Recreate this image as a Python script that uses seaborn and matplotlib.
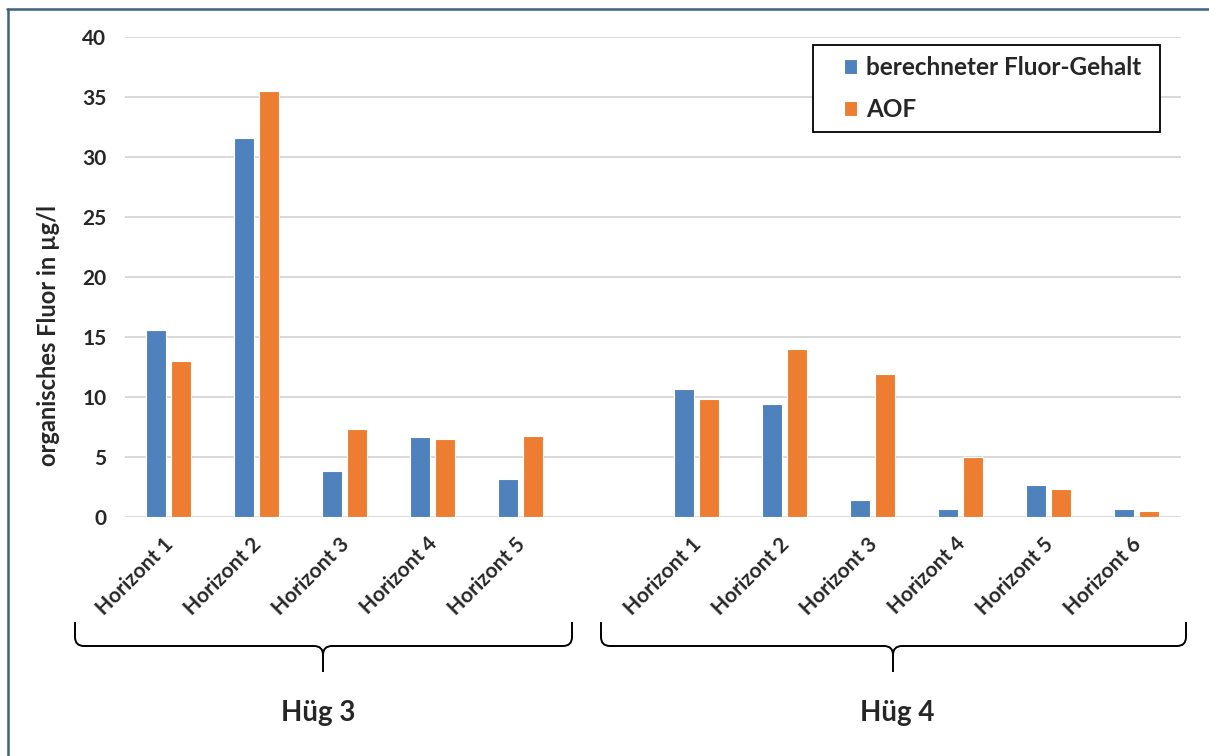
import matplotlib
matplotlib.use("Agg")
import matplotlib.pyplot as plt
import matplotlib.transforms as mtransforms
from matplotlib.path import Path
from matplotlib.patches import PathPatch, Rectangle
from matplotlib.lines import Line2D
import seaborn as sns
import pandas as pd

# ---- data -------------------------------------------------------------
groups = ["Hüg 3", "Hüg 4"]
horizons_hug3 = ["Horizont 1", "Horizont 2", "Horizont 3", "Horizont 4", "Horizont 5"]
horizons_hug4 = ["Horizont 1", "Horizont 2", "Horizont 3", "Horizont 4", "Horizont 5", "Horizont 6"]
series_names = ["berechneter Fluor-Gehalt", "AOF"]

calc_hug3 = [15.6, 31.6, 3.8, 6.7, 3.2]
aof_hug3 = [13.0, 35.5, 7.3, 6.5, 6.75]
calc_hug4 = [10.65, 9.4, 1.45, 0.7, 2.7, 0.65]
aof_hug4 = [9.8, 14.0, 11.9, 5.0, 2.3, 0.5]

y_ticks = [0, 5, 10, 15, 20, 25, 30, 35, 40]
y_label = "organisches Fluor in µg/l"

colors = ["#4F81BD", "#ED7D31"]

# ---- long table with one empty slot between the two profiles ----------
rows = []
slot_order = []
slot_labels = []
for gi, (grp, hors, calc, aof) in enumerate(
        [(groups[0], horizons_hug3, calc_hug3, aof_hug3),
         (groups[1], horizons_hug4, calc_hug4, aof_hug4)]):
    if gi > 0:
        slot_order.append(" ")
        slot_labels.append("")
    for h, c, a in zip(hors, calc, aof):
        key = f"{grp} – {h}"
        slot_order.append(key)
        slot_labels.append(h)
        rows.append({"Probe": key, "Reihe": series_names[0], "Wert": c})
        rows.append({"Probe": key, "Reihe": series_names[1], "Wert": a})
df = pd.DataFrame(rows)

# ---- figure -----------------------------------------------------------
W, H = 1209, 756
sns.set_theme(style="white")
plt.rcParams["font.family"] = ["Lato", "DejaVu Sans"]
fig = plt.figure(figsize=(W / 100, H / 100), dpi=100)
ax_left, ax_right, ax_top, ax_bottom = 124.5, 1180.5, 37, 517
ax = fig.add_axes([ax_left / W, 1 - ax_bottom / H,
                   (ax_right - ax_left) / W, (ax_bottom - ax_top) / H])

sns.barplot(data=df, x="Probe", y="Wert", hue="Reihe", order=slot_order,
            hue_order=series_names, palette=colors, width=0.57, gap=0.18,
            edgecolor="white", linewidth=0.8, saturation=1, ax=ax,
            legend=True, errorbar=None)

ax.set_xlim(-0.5, len(slot_order) - 0.5)
ax.set_ylim(0, 40)
ax.set_yticks(y_ticks)
ax.set_yticklabels([str(t) for t in y_ticks], fontsize=15, fontweight="bold")
ax.yaxis.grid(True, color="#D9D9D9", linewidth=1.4)
ax.set_axisbelow(True)
for s in ax.spines.values():
    s.set_visible(False)
ax.tick_params(axis="both", length=0)
ax.tick_params(axis="y", pad=13)
ax.set_xlabel("")
ax.set_ylabel(y_label, fontsize=17, fontweight="bold")
ax.yaxis.set_label_coords((60 - ax_left) / (ax_right - ax_left),
                          (ax_bottom - 335) / (ax_bottom - ax_top))

ax.set_xticks(range(len(slot_order)))
ax.set_xticklabels(slot_labels, rotation=45, ha="right", va="center",
                   rotation_mode="anchor", fontsize=15, fontweight="bold")
offset = mtransforms.ScaledTranslation(2 / 100, -19 / 100, fig.dpi_scale_trans)
for lab in ax.get_xticklabels():
    lab.set_transform(lab.get_transform() + offset)

# legend: frameless entries inside a plain black box
handles, labels = ax.get_legend_handles_labels()
ax.get_legend().remove()
fig.add_artist(Rectangle((813 / W, 1 - 132 / H), (1160 - 813) / W, (132 - 45) / H,
                         transform=fig.transFigure, facecolor="white",
                         edgecolor="black", linewidth=1.3, zorder=5))
leg = fig.legend(handles, labels, loc="upper left",
                 bbox_to_anchor=(844 / W, 1 - 56 / H), borderaxespad=0,
                 frameon=False, borderpad=0,
                 prop={"weight": "bold", "size": 17.5},
                 handlelength=0.54, handleheight=0.54, handletextpad=0.37,
                 labelspacing=0.78)
leg.set_zorder(6)


# ---- curly braces and group names below the category labels -----------
def px(x, y):
    return (x / W, 1 - y / H)


def brace(x0, x1, xm, y_top=622, y_line=646, y_tip=672, r=9):
    verts = [px(x0, y_top), px(x0, y_line - r), px(x0, y_line), px(x0 + r, y_line),
             px(xm - r, y_line), px(xm, y_line), px(xm, y_line + r), px(xm, y_tip),
             px(x1, y_top), px(x1, y_line - r), px(x1, y_line), px(x1 - r, y_line),
             px(xm + r, y_line), px(xm, y_line), px(xm, y_line + r)]
    codes = [Path.MOVETO, Path.LINETO, Path.CURVE3, Path.CURVE3,
             Path.LINETO, Path.CURVE3, Path.CURVE3, Path.LINETO,
             Path.MOVETO, Path.LINETO, Path.CURVE3, Path.CURVE3,
             Path.LINETO, Path.CURVE3, Path.CURVE3]
    fig.patches.append(PathPatch(Path(verts, codes), transform=fig.transFigure,
                                 facecolor="none", edgecolor="black", linewidth=1.4))


brace(75, 572, 323)
brace(601, 1186, 893)
fig.text(318 / W, 1 - 713 / H, groups[0], ha="center", va="center",
         fontsize=20, fontweight="bold")
fig.text(897 / W, 1 - 713 / H, groups[1], ha="center", va="center",
         fontsize=20, fontweight="bold")

# frame lines of the chart area
border = "#3E6479"
fig.add_artist(Line2D([7 / W, 1], [1 - 9 / H, 1 - 9 / H], transform=fig.transFigure,
                      color=border, linewidth=1.8))
fig.add_artist(Line2D([8 / W, 8 / W], [1 - 9 / H, 0], transform=fig.transFigure,
                      color=border, linewidth=1.8))

fig.savefig("out.png", dpi=100)
